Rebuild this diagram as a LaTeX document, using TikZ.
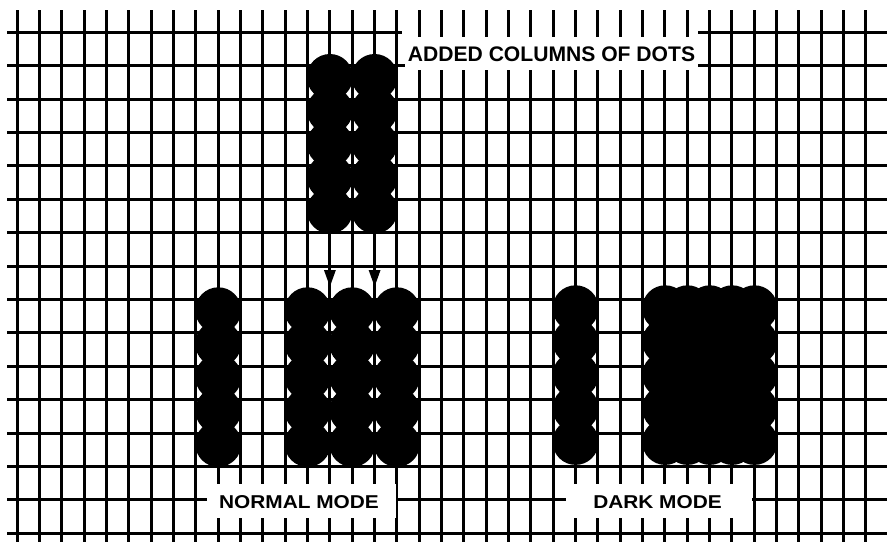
\documentclass[tikz,border=0pt]{standalone}
\usepackage{fontspec}
\setmainfont{Liberation Sans}
\usetikzlibrary{arrows.meta}
\tikzset{
  gridline/.style={line width=3pt, black},
  lblbox/.style={fill=white, draw=none, inner sep=0pt},
  addedtext/.style={font=\bfseries\fontsize{21.1}{24}\selectfont, inner sep=0pt},
  modetext/.style={font=\bfseries\fontsize{18.6}{22}\selectfont, inner sep=0pt},
  arr/.style={line width=3pt, -{Triangle[length=17pt,width=11pt]}},
  dotfill/.style={fill=black},
}
\begin{document}
\begin{tikzpicture}[x=1pt,y=-1pt]
\path[use as bounding box] (0,0) rectangle (887,542);
% horizontal grid lines
\foreach \j in {0,...,15}
  \draw[gridline] (7,{32.3+33.4*\j}) -- (887,{32.3+33.4*\j});
% gap in the top line behind the upper label
\fill[white] (402,30.3) rectangle (698,34.4);
% vertical grid lines
\foreach \k in {0,...,38}
  \draw[gridline] ({17.3+22.33*\k},10) -- ({17.3+22.33*\k},542);
% added columns of dots
\foreach \cx in {329.9,374.6}
  \foreach \i in {0,...,4}
    \fill[dotfill] (\cx,{77+33.4*\i}) circle[radius=23];
% normal mode
\foreach \cx in {218.3,307.6,352.3,396.9}
  \foreach \i in {0,...,4}
    \fill[dotfill] (\cx,{310.3+33.4*\i}) circle[radius=23];
% dark mode, single column
\foreach \i in {0,...,4}
  \fill[dotfill] (575.6,{308.3+33.4*\i}) circle[radius=23];
% dark mode, block
\foreach \m in {0,...,4}
  \foreach \i in {0,...,4}
    \fill[dotfill] ({665.2+22.33*\m},{308.3+33.4*\i}) circle[radius=23];
% arrows
\coordinate (colA) at (329.9,233);
\coordinate (colB) at (374.6,233);
\coordinate (tgtA) at (329.9,287);
\coordinate (tgtB) at (374.6,287);
\draw[arr] (colA) -- (tgtA);
\draw[arr] (colB) -- (tgtB);
% labels
\node[lblbox, minimum width=293pt, minimum height=33pt] (addedbox) at (551.5,53.5) {};
\node[addedtext] (addedlbl) at (551.5,53.8) {ADDED COLUMNS OF DOTS};
\node[lblbox, minimum width=189pt, minimum height=34pt] (normalbox) at (301.5,501) {};
\node[modetext] (normallbl) at (299,501.7) {\scalebox{1.12}[1]{NORMAL MODE}};
\node[lblbox, minimum width=186pt, minimum height=34pt] (darkbox) at (659,501) {};
\node[modetext] (darklbl) at (657.5,501.7) {\scalebox{1.12}[1]{DARK MODE}};
\end{tikzpicture}
\end{document}
